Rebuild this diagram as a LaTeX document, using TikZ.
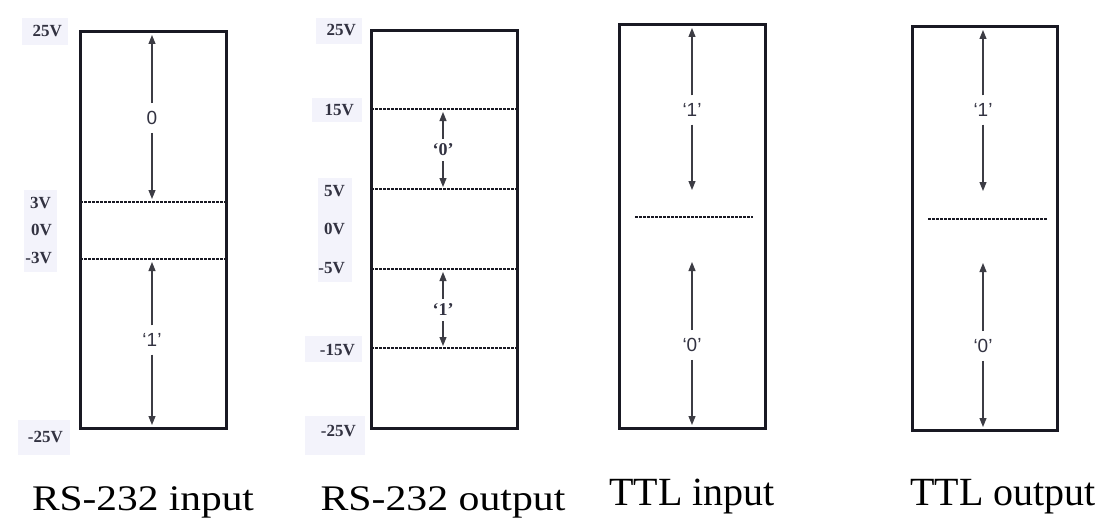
\documentclass[tikz,border=0pt]{standalone}
\usepackage{fontspec}
\setmainfont{Liberation Serif}
\setsansfont{Liberation Sans}
\usetikzlibrary{arrows.meta}
\definecolor{ink}{RGB}{25,25,35}
\definecolor{lab}{RGB}{50,50,65}
\definecolor{patch}{RGB}{243,243,251}
\begin{document}
\begin{tikzpicture}[x=1pt,y=-1pt,
  box/.style={draw=ink, line width=3pt},
  lvl/.style={draw=ink, line width=1.2pt, dash pattern=on 2.5pt off 1.5pt},
  vlab/.style={font=\fontsize{17}{17}\selectfont\bfseries, text=lab, inner sep=1pt, anchor=east},
  arr/.style={draw=ink!85, line width=1.1pt, -{Triangle[length=9pt,width=7pt]}},
  val/.style={font=\sffamily\fontsize{19}{19}\selectfont, text=lab, inner xsep=2pt, inner ysep=8pt},
  sval/.style={font=\fontsize{18}{18}\selectfont\bfseries, text=lab, inner xsep=2pt, inner ysep=5pt},
  capt/.style={text=black, anchor=base, inner sep=0pt}
]
\useasboundingbox (0,0) rectangle (1104,519);
\fill[white] (0,0) rectangle (1104,519);

% faint background patches behind the voltage labels
\fill[patch] (22,18) rectangle (68,45);
\fill[patch] (24,190) rectangle (57,272);
\fill[patch] (18,420) rectangle (70,455);
\fill[patch] (316,18) rectangle (362,44);
\fill[patch] (312,98) rectangle (362,122);
\fill[patch] (318,178) rectangle (352,282);
\fill[patch] (305,336) rectangle (362,362);
\fill[patch] (305,416) rectangle (365,455);

% ---------- RS-232 input ----------
\draw[box] (80,32) rectangle (226,428);
\draw[lvl] (80,202) -- (226,202);
\draw[lvl] (80,259) -- (226,259);
\coordinate (a1t) at (152,35);
\coordinate (a1b) at (152,199);
\coordinate (a2t) at (152,262);
\coordinate (a2b) at (152,425);
\node[val] (l1) at (152,118) {0};
\node[val] (l2) at (152,340) {`1'};
\draw[arr] (l1) -- (a1t);
\draw[arr] (l1) -- (a1b);
\draw[arr] (l2) -- (a2t);
\draw[arr] (l2) -- (a2b);
\node[vlab] (v1) at (63,31) {25V};
\node[vlab] (v2) at (52,203) {3V};
\node[vlab] (v3) at (53,230) {0V};
\node[vlab] (v4) at (53,258) {-3V};
\node[vlab] (v5) at (64,437) {-25V};

% ---------- RS-232 output ----------
\draw[box] (371,31) rectangle (517,428);
\draw[lvl] (371,109) -- (517,109);
\draw[lvl] (371,189) -- (517,189);
\draw[lvl] (371,269) -- (517,269);
\draw[lvl] (371,348) -- (517,348);
\coordinate (b1t) at (443,112);
\coordinate (b1b) at (443,187);
\coordinate (b2t) at (443,272);
\coordinate (b2b) at (443,346);
\node[sval] (m1) at (443,150) {`0'};
\node[sval] (m2) at (443,310) {`1'};
\draw[arr] (m1) -- (b1t);
\draw[arr] (m1) -- (b1b);
\draw[arr] (m2) -- (b2t);
\draw[arr] (m2) -- (b2b);
\node[vlab] (w1) at (357,30) {25V};
\node[vlab] (w2) at (355,110) {15V};
\node[vlab] (w3) at (346,191) {5V};
\node[vlab] (w4) at (346,229) {0V};
\node[vlab] (w5) at (346,268) {-5V};
\node[vlab] (w6) at (356,350) {-15V};
\node[vlab] (w7) at (357,431) {-25V};

% ---------- TTL input ----------
\draw[box] (619,25) rectangle (765,428);
\draw[lvl] (635,217) -- (753,217);
\coordinate (c1t) at (692,28);
\coordinate (c1b) at (692,190);
\coordinate (c2t) at (692,262);
\coordinate (c2b) at (692,425);
\node[val] (n1) at (692,110) {`1'};
\node[val] (n2) at (692,345) {`0'};
\draw[arr] (n1) -- (c1t);
\draw[arr] (n1) -- (c1b);
\draw[arr] (n2) -- (c2t);
\draw[arr] (n2) -- (c2b);

% ---------- TTL output ----------
\draw[box] (912,27) rectangle (1057,430);
\draw[lvl] (928,219) -- (1047,219);
\coordinate (d1t) at (983,30);
\coordinate (d1b) at (983,191);
\coordinate (d2t) at (983,263);
\coordinate (d2b) at (983,427);
\node[val] (o1) at (983,110) {`1'};
\node[val] (o2) at (983,346) {`0'};
\draw[arr] (o1) -- (d1t);
\draw[arr] (o1) -- (d1b);
\draw[arr] (o2) -- (d2t);
\draw[arr] (o2) -- (d2b);

% ---------- captions ----------
\node[capt, font=\fontsize{36}{36}\selectfont] (t1) at (143,510) {\scalebox{1.15}[1]{RS-232 input}};
\node[capt, font=\fontsize{36}{36}\selectfont] (t2) at (443,510) {\scalebox{1.16}[1]{RS-232 output}};
\node[capt, font=\fontsize{40}{40}\selectfont] (t3) at (692,505) {TTL input};
\node[capt, font=\fontsize{40}{40}\selectfont] (t4) at (1003,505) {TTL output};
\end{tikzpicture}
\end{document}
